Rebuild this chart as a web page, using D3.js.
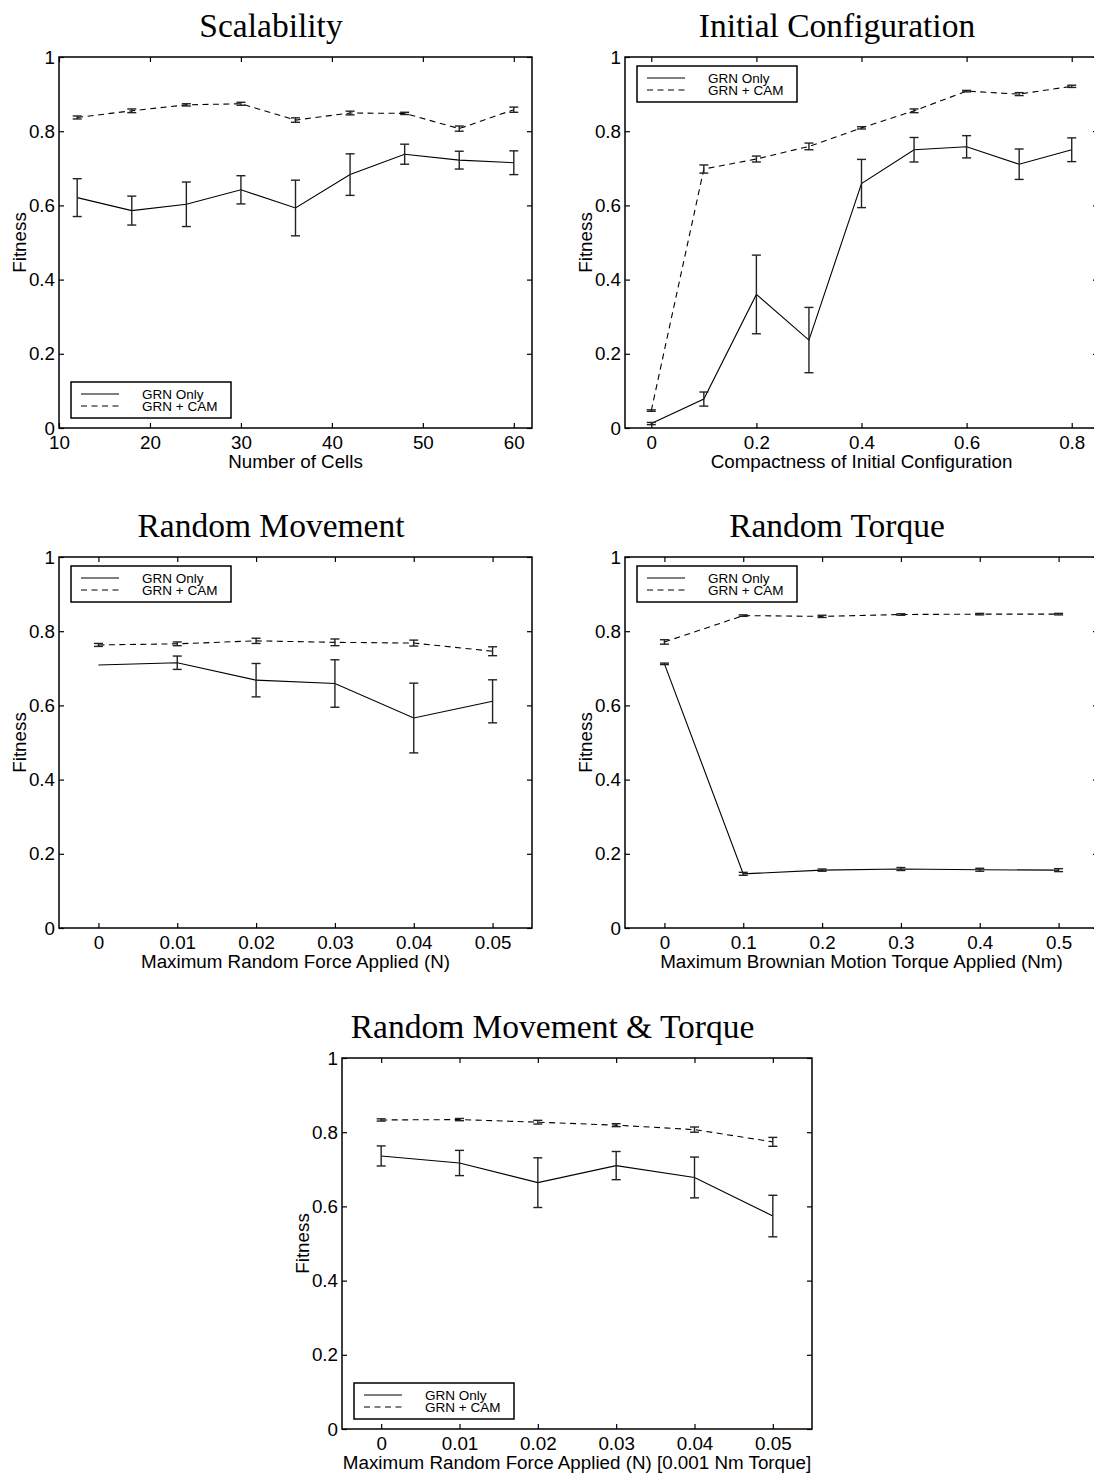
<!DOCTYPE html>
<html>
<head>
<meta charset="utf-8">
<script src="https://cdnjs.cloudflare.com/ajax/libs/d3/7.8.5/d3.min.js"></script>
<style>
  html, body { margin: 0; padding: 0; background: #fff; }
  svg { display: block; }
  .tick text, .axis-label { font-family: "Liberation Sans", Arial, Helvetica, sans-serif; font-size: 18.8px; fill: #000; }
  .legend-label { font-family: "Liberation Sans", Arial, Helvetica, sans-serif; font-size: 13.5px; fill: #000; }
  .panel-title { font-family: "Liberation Serif", "Times New Roman", serif; font-size: 33.5px; fill: #000; }
</style>
</head>
<body>
<div id="chart"></div>
<script>
var yTicks = [0, 0.2, 0.4, 0.6, 0.8, 1];
var yTickLabels = ["0", "0.2", "0.4", "0.6", "0.8", "1"];
var seriesNames = ["GRN Only", "GRN + CAM"];

// Scalability
var cellCounts = [12, 18, 24, 30, 36, 42, 48, 54, 60];
var cellTicks = [10, 20, 30, 40, 50, 60];
var cellTickLabels = ["10", "20", "30", "40", "50", "60"];
var cellGrn = [0.621, 0.586, 0.603, 0.642, 0.593, 0.683, 0.738, 0.722, 0.715];
var cellGrnErr = [0.051, 0.039, 0.060, 0.038, 0.075, 0.056, 0.027, 0.024, 0.032];
var cellCam = [0.837, 0.855, 0.871, 0.874, 0.830, 0.849, 0.848, 0.807, 0.858];
var cellCamErr = [0.004, 0.005, 0.003, 0.004, 0.006, 0.005, 0.003, 0.007, 0.007];

// Initial Configuration
var compactness = [0, 0.1, 0.2, 0.3, 0.4, 0.5, 0.6, 0.7, 0.8];
var compactTicks = [0, 0.2, 0.4, 0.6, 0.8];
var compactTickLabels = ["0", "0.2", "0.4", "0.6", "0.8"];
var compactGrn = [0.012, 0.078, 0.360, 0.237, 0.659, 0.750, 0.758, 0.711, 0.750];
var compactGrnErr = [0.003, 0.019, 0.106, 0.088, 0.065, 0.033, 0.030, 0.041, 0.032];
var compactCam = [0.047, 0.698, 0.725, 0.759, 0.809, 0.855, 0.908, 0.900, 0.921];
var compactCamErr = [0.002, 0.011, 0.008, 0.009, 0.003, 0.005, 0.002, 0.004, 0.003];

// Random Movement
var forces = [0, 0.01, 0.02, 0.03, 0.04, 0.05];
var forceTickLabels = ["0", "0.01", "0.02", "0.03", "0.04", "0.05"];
var moveGrn = [0.709, 0.715, 0.668, 0.659, 0.566, 0.611];
var moveGrnErr = [0, 0.018, 0.045, 0.064, 0.094, 0.058];
var moveCam = [0.763, 0.766, 0.774, 0.770, 0.768, 0.746];
var moveCamErr = [0.004, 0.005, 0.007, 0.009, 0.008, 0.012];

// Random Torque
var torques = [0, 0.1, 0.2, 0.3, 0.4, 0.5];
var torqueTickLabels = ["0", "0.1", "0.2", "0.3", "0.4", "0.5"];
var torqueGrn = [0.712, 0.146, 0.156, 0.159, 0.157, 0.156];
var torqueGrnErr = [0.002, 0.004, 0.003, 0.004, 0.004, 0.004];
var torqueCam = [0.771, 0.842, 0.840, 0.845, 0.846, 0.846];
var torqueCamErr = [0.006, 0.002, 0.003, 0.002, 0.002, 0.002];

// Random Movement & Torque
var bothGrn = [0.736, 0.717, 0.664, 0.710, 0.678, 0.574];
var bothGrnErr = [0.027, 0.034, 0.067, 0.038, 0.055, 0.056];
var bothCam = [0.833, 0.834, 0.827, 0.819, 0.807, 0.774];
var bothCamErr = [0.003, 0.003, 0.005, 0.004, 0.007, 0.012];

var svg = d3.select("#chart")
  .append("svg")
  .attr("width", 1094)
  .attr("height", 1475);

function drawPanel(opt) {
  var left = opt.left, top = opt.top, w = opt.width, h = opt.height;
  var x = d3.scaleLinear().domain(opt.xDomain).range([left, left + w]);
  var y = d3.scaleLinear().domain([0, 1]).range([top + h, top]);
  var g = svg.append("g").attr("class", "panel");

  // subfigure caption, centred on the whole figure incl. y label
  g.append("text")
    .attr("class", "panel-title")
    .attr("x", (left - 49 + left + w) / 2)
    .attr("y", top - 20)
    .attr("text-anchor", "middle")
    .text(opt.title);

  // axes (ticks point inward, on all four sides)
  var xb = g.append("g")
    .attr("transform", "translate(0," + (top + h) + ")")
    .call(d3.axisBottom(x).tickValues(opt.xTicks)
      .tickFormat(function(d, i) { return opt.xTickLabels[i]; })
      .tickSizeInner(-5).tickSizeOuter(0).tickPadding(8));
  var xt = g.append("g")
    .attr("transform", "translate(0," + top + ")")
    .call(d3.axisTop(x).tickValues(opt.xTicks).tickFormat("")
      .tickSizeInner(-5).tickSizeOuter(0));
  var yl = g.append("g")
    .attr("transform", "translate(" + left + ",0)")
    .call(d3.axisLeft(y).tickValues(yTicks)
      .tickFormat(function(d, i) { return yTickLabels[i]; })
      .tickSizeInner(-5).tickSizeOuter(0).tickPadding(4));
  var yr = g.append("g")
    .attr("transform", "translate(" + (left + w) + ",0)")
    .call(d3.axisRight(y).tickValues(yTicks).tickFormat("")
      .tickSizeInner(-5).tickSizeOuter(0));
  [xb, xt, yl, yr].forEach(function(a) {
    a.select(".domain").remove();
    a.selectAll(".tick line").attr("stroke", "#000").attr("stroke-width", 1.2);
    a.attr("font-family", null).attr("font-size", null);
  });

  g.append("rect")
    .attr("x", left)
    .attr("y", top)
    .attr("width", w)
    .attr("height", h)
    .attr("fill", "none")
    .attr("stroke", "#000")
    .attr("stroke-width", 1.5);

  g.append("text")
    .attr("class", "axis-label")
    .attr("x", left + w / 2)
    .attr("y", top + h + 40)
    .attr("text-anchor", "middle")
    .text(opt.xLabel);

  g.append("text")
    .attr("class", "axis-label")
    .attr("transform", "translate(" + (left - 33) + "," + (top + h / 2) + ") rotate(-90)")
    .attr("text-anchor", "middle")
    .text("Fitness");

  var series = [
    { vals: opt.grn, errs: opt.grnErr, dash: null },
    { vals: opt.cam, errs: opt.camErr, dash: "6,4.5" }
  ];

  var line = d3.line()
    .x(function(d) { return x(d[0]); })
    .y(function(d) { return y(d[1]); });

  series.forEach(function(s) {
    var pts = opt.xs.map(function(v, i) { return [v, s.vals[i], s.errs[i]]; });
    g.append("path")
      .datum(pts)
      .attr("d", line)
      .attr("fill", "none")
      .attr("stroke", "#000")
      .attr("stroke-width", 1.1)
      .attr("stroke-dasharray", s.dash);

    var eb = g.selectAll(null)
      .data(pts.filter(function(d) { return d[2] > 0; }))
      .enter()
      .append("g")
      .attr("stroke", "#222")
      .attr("stroke-width", 1.4);
    eb.append("line")
      .attr("x1", function(d) { return x(d[0]); })
      .attr("x2", function(d) { return x(d[0]); })
      .attr("y1", function(d) { return y(d[1] - d[2]); })
      .attr("y2", function(d) { return y(d[1] + d[2]); });
    eb.append("line")
      .attr("x1", function(d) { return x(d[0]) - 4.5; })
      .attr("x2", function(d) { return x(d[0]) + 4.5; })
      .attr("y1", function(d) { return y(d[1] + d[2]); })
      .attr("y2", function(d) { return y(d[1] + d[2]); });
    eb.append("line")
      .attr("x1", function(d) { return x(d[0]) - 4.5; })
      .attr("x2", function(d) { return x(d[0]) + 4.5; })
      .attr("y1", function(d) { return y(d[1] - d[2]); })
      .attr("y2", function(d) { return y(d[1] - d[2]); });
  });

  // legend box
  var lx = left + 12;
  var ly = opt.legend == "bottom" ? top + h - 10 - 36 : top + 9;
  var lg = g.append("g").attr("transform", "translate(" + lx + "," + ly + ")");
  lg.append("rect")
    .attr("width", 160)
    .attr("height", 36)
    .attr("fill", "#fff")
    .attr("stroke", "#000")
    .attr("stroke-width", 1.5);
  seriesNames.forEach(function(name, i) {
    lg.append("line")
      .attr("x1", 10).attr("x2", 48)
      .attr("y1", 12 + i * 12).attr("y2", 12 + i * 12)
      .attr("stroke", "#000")
      .attr("stroke-width", 1.1)
      .attr("stroke-dasharray", i == 1 ? "6,4.5" : null);
    lg.append("text")
      .attr("class", "legend-label")
      .attr("x", 71)
      .attr("y", 17 + i * 12)
      .text(name);
  });
}

drawPanel({
  title: "Scalability", left: 59, top: 57, width: 473, height: 371,
  xDomain: [10, 62], xTicks: cellTicks, xTickLabels: cellTickLabels,
  xLabel: "Number of Cells", xs: cellCounts,
  grn: cellGrn, grnErr: cellGrnErr, cam: cellCam, camErr: cellCamErr, legend: "bottom"
});
drawPanel({
  title: "Initial Configuration", left: 625, top: 57, width: 473, height: 371,
  xDomain: [-0.05, 0.85], xTicks: compactTicks, xTickLabels: compactTickLabels,
  xLabel: "Compactness of Initial Configuration", xs: compactness,
  grn: compactGrn, grnErr: compactGrnErr, cam: compactCam, camErr: compactCamErr, legend: "top"
});
drawPanel({
  title: "Random Movement", left: 59, top: 557, width: 473, height: 371,
  xDomain: [-0.005, 0.055], xTicks: forces, xTickLabels: forceTickLabels,
  xLabel: "Maximum Random Force Applied (N)", xs: forces,
  grn: moveGrn, grnErr: moveGrnErr, cam: moveCam, camErr: moveCamErr, legend: "top"
});
drawPanel({
  title: "Random Torque", left: 625, top: 557, width: 473, height: 371,
  xDomain: [-0.05, 0.55], xTicks: torques, xTickLabels: torqueTickLabels,
  xLabel: "Maximum Brownian Motion Torque Applied (Nm)", xs: torques,
  grn: torqueGrn, grnErr: torqueGrnErr, cam: torqueCam, camErr: torqueCamErr, legend: "top"
});
drawPanel({
  title: "Random Movement & Torque", left: 342, top: 1058, width: 470, height: 371,
  xDomain: [-0.005, 0.055], xTicks: forces, xTickLabels: forceTickLabels,
  xLabel: "Maximum Random Force Applied (N) [0.001 Nm Torque]", xs: forces,
  grn: bothGrn, grnErr: bothGrnErr, cam: bothCam, camErr: bothCamErr, legend: "bottom"
});
</script>
</body>
</html>
